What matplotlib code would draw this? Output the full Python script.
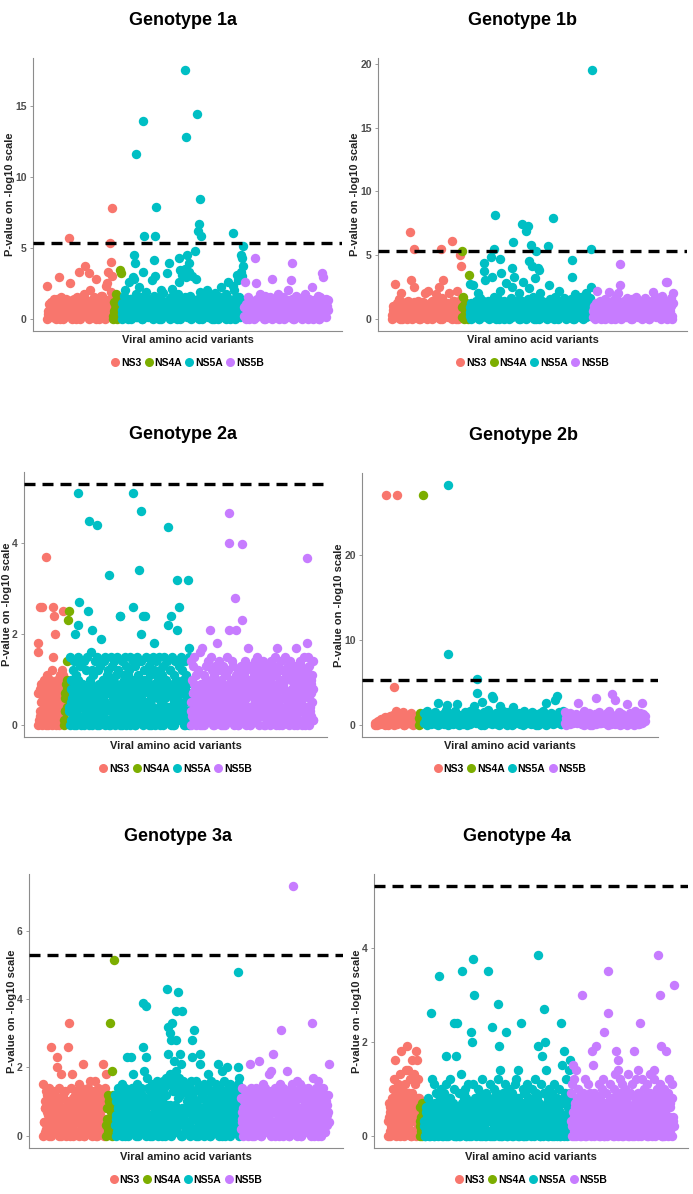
import numpy as np
import matplotlib.pyplot as plt
from matplotlib.lines import Line2D
from matplotlib.ticker import MultipleLocator

plt.rcParams["font.family"] = ["Liberation Sans", "DejaVu Sans"]
plt.rcParams["font.weight"] = "bold"
plt.rcParams["axes.labelweight"] = "bold"

# ==============================
# genes / colours
# ==============================
GENES = ["NS3", "NS4A", "NS5A", "NS5B"]
GENE_COLORS = ["#F8766D", "#7CAE00", "#00BFC4", "#C77CFF"]
THRESHOLD = 5.3  # genome-wide significance, -log10 scale

# ==============================
# data
# one char per variant, -log10(p) in tenths, base 36
# ('0'..'9' = 0.0..0.9, 'a' = 1.0 ... 'z' = 3.5)
#   *_BG   : variants in gene order (spread / upper part of the cloud)
#   *_CORE : the many weak variants that make the solid band at the bottom
#   *_HITS : (variant index inside the gene, -log10(p)) for stronger signals
# ==============================

# ---- genotype 1a
G1A_NS3_BG = "n3a5c18e2b4d7t0a6c93e5b2p8d1a6c0f7xb3e9h2d8a5wk1c6fbs3e0a9g74d1npxa2ju"
G1A_NS4A_BG = "2c7h0e4yw"
G1A_NS5A_BG = ("6b2gk8d0q5e3ts9h1c7m4f0xa8j2d6b5r1g9u3e70ck4i8a2w5d9f1l6b3e0"
               "hqy7vc2zt4a8xg1u5c9s3e0jb6h2d85k1a7f4c0ib3g9d2m6e18h4qc0a5nk2f7vr9txu6")
G1A_NS5B_BG = "8qa3f0d5c91b6p2e4ha7c0g5d9a3f1s7b2e8h0c49f1a6d3k5bre0c8g2a7d4b9f1h6c0ea5m3d8b2g70fcwtb4e9d"
G1A_NS3_CORE = "0527a1c4830e6b2f9071d538a4c06e2b71905f3a8d2c6041b9e7035a2g8160c4d9372e"
G1A_NS4A_CORE = "05a3c81e6"
G1A_NS5A_CORE = ("3071c5a82e0d4b6193f2a7058c2e14b9603d7a251f084c6b3920e7a51d84"
                 "6c039b2f71a5840e3c6917d2b05a483e916c0f274b08a3d5619027e4c1b805a63f1d92")
G1A_NS5B_CORE = "2805b3d17a6041e92c58a3071d46b90528c1e374b6092a5d138470c2e9613a05b8147d9260c3a5180e4b7291d6"
G1A_NS3_HITS = [(23, 5.7), (40, 3.7), (67, 5.3), (68, 4.0), (69, 7.8)]
G1A_NS4A_HITS = []
G1A_NS5A_HITS = [(13, 4.5), (14, 3.9), (15, 11.6), (23, 13.9), (24, 5.8), (35, 4.1),
                 (36, 5.8), (37, 7.9), (50, 3.9), (61, 4.3), (67, 17.5), (68, 12.8),
                 (69, 4.5), (72, 3.9), (78, 4.8), (80, 14.4), (81, 6.2), (82, 6.7),
                 (83, 8.4), (84, 5.8), (118, 6.0), (127, 4.5), (128, 4.3), (129, 5.1),
                 (129, 3.7)]
G1A_NS5B_HITS = [(12, 4.3), (51, 3.9)]

# ---- genotype 1b
G1B_NS3_BG = "3a6r1c8f50k29b4d07c2u5a1p8c3e60b7d2ka4m91c5e8a3j6bp0d4gu2a7c5k1b9e3a0dm6c8f"
G1B_NS4A_BG = "9h2c6a0y"
G1B_NS5A_BG = ("r5c1qa8e3k0g6b9d2ub4e7a1x3h5c82f0m9b4e6sa3d7g1p5xc8e2k0b6t4d"
               "9a1fo3c7h5w0e6b2k8d41c9a5qf3e7b2h6d0m4a83g9c1e5b7fxd0j6a2c4h8b5e1k3a9gp4")
G1B_NS5B_BG = "6a2c8mb4e09d3f1a7l5c0e8b4h2kaq7c3e9a1g5db0f6c2h8a4e9d1b5g3c70a8e4lf2h6c9b3i5e1tdt7a2g0k"
G1B_NS3_CORE = "0716a3c2854093b15e726081d4a9305c2719b0483a6052d81794c0368a251b7403e96280a51"
G1B_NS4A_CORE = "1a04c627"
G1B_NS5A_CORE = ("2905a1c7360b48e2d9157063a48c015e927b3064d1085a2c793b6041e85a"
                 "9027c3d160a48b0529e73160d8a4c205b9731e864a20c59d176083b2e41a9705c1d3b826")
G1B_NS5B_CORE = "1805a3c9627b40e1d58329a6071c450d38b52e196a0473c81259e0b61d370428a5c9163b70e24d850196a2c"
G1B_NS3_HITS = [(19, 6.8), (24, 5.5), (52, 5.5), (64, 6.1), (73, 5.0), (74, 4.1)]
G1B_NS4A_HITS = [(0, 5.3)]
G1B_NS5A_HITS = [(15, 4.4), (16, 3.7), (23, 4.8), (26, 5.5), (27, 8.1), (33, 4.7),
                 (34, 3.6), (46, 4.0), (47, 6.0), (56, 7.4), (60, 6.9), (63, 7.3),
                 (64, 4.5), (66, 5.8), (67, 4.1), (71, 5.3), (73, 4.0), (74, 3.8),
                 (84, 5.7), (89, 7.9), (110, 4.6), (130, 5.5), (131, 19.5)]
G1B_NS5B_HITS = [(29, 4.3)]

# ---- genotype 2a
G2A_NS3_BG = "ig7q290q5a3816b0492a7c1fqok40829a3b61c5p"
G2A_NS4A_BG = "1639aenp"
G2A_NS5A_BG = ("3f5a1c7e0k4b8fmr6d0592e71c3f6p0a5g2l8b4e17f3c60d9j5a2e8f4b1c"
               "7x0f3d6a2e8b4f1c5oo90e7a3f6d2b8c1f5a3eq70d6f2b9y4ke1o7co3f5a"
               "8d0b6e2f4ci91e7a3f0c5b8d2f6a4e1m9c3o7f0b6e2awl8dq4f1c7a5e0b93whf6")
G2A_NS5B_BG = ("e3a7d1f5b08c26g490h5b37d1a6e2l9f4c0b8d5ai37e1c6a29d40b8f5cl3"
               "7a1e6d29sbl4c08a5dn39b1e6c2ah70d4a8c3b5e1f7a9d2c6b4e0a8c5d3b"
               "7a1e9c2d6f0bh4d8a2e6c9a3f1b7d50e4a8c2d6b9h3c7a1e5d0b8f4a2cif6d3a9b1e")
G2A_NS3_CORE = "07183529642a058317964019276358a3086124b7"
G2A_NS4A_CORE = "03718496"
G2A_NS5A_CORE = ("40816259370352a8714692604153871739c0624858041297362a68053179"
                 "401738692509361482077152b90463386027415904917368256208a51493"
                 "15740826398029b3614753609182742714c083650859261473419370852617305")
G2A_NS5B_CORE = ("052739184638160429577094a25138146280739558391702640275b48613"
                 "914836207526035918476751029384408273615913960482758520a61749"
                 "304718956276153029480938472615527186409328041593766139a0724809472518")
G2A_NS3_HITS = [(13, 3.7)]
G2A_NS4A_HITS = []
G2A_NS5A_HITS = [(14, 5.1), (30, 4.5), (43, 4.4), (98, 5.1), (109, 4.7), (151, 4.35)]
G2A_NS5B_HITS = [(58, 4.66), (59, 4.0), (78, 3.98), (178, 3.68)]

# ---- genotype 2b
G2B_NS3_BG = "3051724a608b3c5g2e94f0c6a3e158b4"
G2B_NS4A_BG = "8e3c"
G2B_NS5A_BG = ("e8g3c9a5f1q6b2d8io0c7e3gp5c9a1f6d2hb8m4e9c0rf5ai3dyw7e1bm6g2"
               "c8f4a0l5d9e2b7g3c6a1f5d0b8e4h2q7c3e9auy5f1dg")
G2B_NS5B_BG = "f8c3e9a5d2q6b1g7c4e0a8dw5f2c9b3e7h1c6ta4f0d8b5p2e9c3g7a1eqdb"
G2B_NS3_CORE = "04132670513826041795104836250724"
G2B_NS4A_CORE = "0527"
G2B_NS5A_CORE = ("2705918346048261379561392704583806154927925104378616473095825038261947"
                 "8160a5392447920183650385b172647193")
G2B_NS5B_CORE = "309517284662810493750741836259580629314724185709369063148275"
G2B_NS3_HITS = [(8, 27.0), (14, 4.5), (16, 27.0)]
G2B_NS4A_HITS = [(3, 27.0)]
G2B_NS5A_HITS = [(18, 28.2), (18, 8.3), (39, 5.4), (39, 3.8)]
G2B_NS5B_HITS = [(35, 3.7)]

# ---- genotype 3a
G3A_NS3_BG = "f4a8d1c6e07bq3d91c5ank6e28i0b4c71d5a3qx90e6i2b8c4a7d1f5b3e9cl0a6d2c8e4g9b1d5a3g70c8e2a6d4bl9dei"
G3A_NS4A_BG = "38c1a5xb0jc74"
G3A_NS5A_BG = ("c5a1e8b3d60f7c2e9an4d81bn6ei3c9a5f0d7b2e4cqj8a1nhe6b3d9f0c5a"
               "2e7g1b8d4fa6g3e0hc9wofiusxgdmhesjfgbhcold8g5e1f7a3c9e2gsnbv6"
               "dg0a8e4olb7c1f5d9a3ie6b0g4c8d2a7f3lc5e1b9jd4g0c8ke2a6f1d5b9c3e7afkhcd")
G3A_NS5B_BG = ("b4e8a1c6d390cl5e2a7d1b6e3c8am4d09f5b2e7c1a6i3jd8ob4e0c9a5d2f"
               "7vb3e1c8aj5d0b6e2f9c4a8d1g6b3f0c7e5a9d2b6e1c8a4xdh0b7e3cg9a5d2b8e1c6a49cl")
G3A_NS3_CORE = ("041827395660935127482750a81364814603927539726051481580b47326"
                "73049258615261073498903741628540185")
G3A_NS4A_CORE = "0582a147396b2"
G3A_NS5A_CORE = ("306182945771483059260592a731684806153792193726084562 50b94173".replace(" ", "") +
                 "871304952620648173955397026184912857364006753182493840c96152"
                 "72194058631583062794640219753849518302760736a251498260475391395172046")
G3A_NS5B_CORE = ("2750418369518396207409263715487048a52196361580942794712360581360894725"
                 "620851793445970631828032b74615176430592852196803470843271596374")
G3A_NS3_HITS = []
G3A_NS4A_HITS = [(12, 5.15)]
G3A_NS5A_HITS = [(42, 3.88), (47, 3.8), (78, 4.29), (92, 3.66), (94, 4.22), (101, 3.66), (184, 4.8)]
G3A_NS5B_HITS = [(79, 7.31)]

# ---- genotype 4a
G4A_NS3_BG = "3705182a4cg691b380di5a297b4eje18c60g93d5bi7gc28"
G4A_NS4A_BG = "2617054"
G4A_NS5A_BG = ("3061528470q2c5b0739164y82a057391bh46082c5371ao40ho62930d5z18"
               "4a0637b251mk6bu380527a1946c038250936z1b470n52a8361csje407295"
               "3b6m081a47259063b1c48e052o73a61904b528370a6153c9284j703b6h29"
               "rke5180a463952b0714862a05o3f71i94c062e8g")
G4A_NS5B_BG = ("9b3f0c6e284a1750u3962c8041b5370i6f294j1753b0862acm41970zq53b"
               "8260a4di17ge3c950b628a4175d03916b40i72c5e93o806c1a4728b0593d"
               "6183ec075a294buj6083a51i790c4628b3w")
G4A_NS3_CORE = "04162753813702846195518306742929570416384061837"
G4A_NS4A_CORE = "0346125"
G4A_NS5A_CORE = ("205143607243160521740623714905524037162813570642036102543719"
                 "348021605707143658215263041738204615380771350264984502371063"
                 "167804321532056147826041327509056314827624170536845730216409"
                 "1362750483402861357061530427180374261593")
G4A_NS5B_CORE = ("302514760816403725185072416389231850467146031257900251673148"
                 "641703285930542618071738405269520631847404631725382745016893"
                 "41082637596371540826052638417183042")
G4A_NS3_HITS = []
G4A_NS4A_HITS = []
G4A_NS5A_HITS = [(73, 3.75), (171, 3.84)]
G4A_NS5B_HITS = [(130, 3.84)]

TITLES = ["Genotype 1a", "Genotype 1b", "Genotype 2a", "Genotype 2b", "Genotype 3a", "Genotype 4a"]
BACKGROUNDS = [
    [G1A_NS3_BG, G1A_NS4A_BG, G1A_NS5A_BG, G1A_NS5B_BG],
    [G1B_NS3_BG, G1B_NS4A_BG, G1B_NS5A_BG, G1B_NS5B_BG],
    [G2A_NS3_BG, G2A_NS4A_BG, G2A_NS5A_BG, G2A_NS5B_BG],
    [G2B_NS3_BG, G2B_NS4A_BG, G2B_NS5A_BG, G2B_NS5B_BG],
    [G3A_NS3_BG, G3A_NS4A_BG, G3A_NS5A_BG, G3A_NS5B_BG],
    [G4A_NS3_BG, G4A_NS4A_BG, G4A_NS5A_BG, G4A_NS5B_BG],
]
CORES = [
    [G1A_NS3_CORE, G1A_NS4A_CORE, G1A_NS5A_CORE, G1A_NS5B_CORE],
    [G1B_NS3_CORE, G1B_NS4A_CORE, G1B_NS5A_CORE, G1B_NS5B_CORE],
    [G2A_NS3_CORE, G2A_NS4A_CORE, G2A_NS5A_CORE, G2A_NS5B_CORE],
    [G2B_NS3_CORE, G2B_NS4A_CORE, G2B_NS5A_CORE, G2B_NS5B_CORE],
    [G3A_NS3_CORE, G3A_NS4A_CORE, G3A_NS5A_CORE, G3A_NS5B_CORE],
    [G4A_NS3_CORE, G4A_NS4A_CORE, G4A_NS5A_CORE, G4A_NS5B_CORE],
]
HITS = [
    [G1A_NS3_HITS, G1A_NS4A_HITS, G1A_NS5A_HITS, G1A_NS5B_HITS],
    [G1B_NS3_HITS, G1B_NS4A_HITS, G1B_NS5A_HITS, G1B_NS5B_HITS],
    [G2A_NS3_HITS, G2A_NS4A_HITS, G2A_NS5A_HITS, G2A_NS5B_HITS],
    [G2B_NS3_HITS, G2B_NS4A_HITS, G2B_NS5A_HITS, G2B_NS5B_HITS],
    [G3A_NS3_HITS, G3A_NS4A_HITS, G3A_NS5A_HITS, G3A_NS5B_HITS],
    [G4A_NS3_HITS, G4A_NS4A_HITS, G4A_NS5A_HITS, G4A_NS5B_HITS],
]
TICK_STEPS = [5, 5, 2, 10, 2, 2]

# ==============================
# layout (figure fractions) – panels were pasted together, so not a neat grid
# ==============================
FIG_W, FIG_H = 6.93, 11.94
RECTS = [
    [0.0476, 0.7228, 0.4459, 0.2286],
    [0.5455, 0.7228, 0.4459, 0.2286],
    [0.0346, 0.3827, 0.4372, 0.2219],
    [0.5224, 0.3827, 0.4271, 0.2211],
    [0.0418, 0.0385, 0.4531, 0.2295],
    [0.5397, 0.0385, 0.4531, 0.2295],
]
TITLE_X = [0.485, 0.469, 0.525, 0.544, 0.475, 0.455]

AXIS_GREY = "#8c8c8c"
TEXT_GREY = "#4d4d4d"


def decode(s):
    return np.array([int(c, 36) for c in s], dtype=float) / 10.0


def draw_panel(ax, title, backgrounds, cores, hits, tick_step, title_x, rect):
    start = 0
    ys = []
    for color, bg, core, hit in zip(GENE_COLORS, backgrounds, cores, hits):
        y = decode(bg)
        yc = decode(core)
        x = start + np.arange(len(y))
        # core variants spread over the same stretch of the gene
        xc = start + np.linspace(0, len(y) - 1, len(yc))
        hx = np.array([start + i for i, _ in hit], dtype=float)
        hy = np.array([v for _, v in hit], dtype=float)
        ax.scatter(np.r_[xc, x, hx], np.r_[yc, y, hy], s=46, color=color,
                   linewidths=0, zorder=2)
        ys.extend(y)
        ys.extend(hy)
        start += len(y)

    n = start
    ax.axhline(THRESHOLD, color="black", lw=2.4, ls=(0, (3.3, 2.1)), zorder=3)

    # ggplot style 5% expansion
    xpad = 0.05 * (n - 1)
    ax.set_xlim(-xpad, n - 1 + xpad)
    top = max(max(ys), THRESHOLD)
    ax.set_ylim(-0.05 * top, top * 1.05)

    for side in ["top", "right"]:
        ax.spines[side].set_visible(False)
    for side in ["left", "bottom"]:
        ax.spines[side].set_color(AXIS_GREY)
        ax.spines[side].set_linewidth(0.8)

    ax.set_xticks([])
    ax.yaxis.set_major_locator(MultipleLocator(tick_step))
    ax.tick_params(axis="y", length=2.5, width=0.6, color=AXIS_GREY,
                   labelsize=7.5, labelcolor=TEXT_GREY, pad=2)

    ax.set_xlabel("Viral amino acid variants", fontsize=8, fontweight="bold",
                  color="#222222", labelpad=3)
    ax.set_ylabel("P-value on -log10 scale", fontsize=8, fontweight="bold",
                  color="#222222", labelpad=0)
    ax.set_title(title, fontsize=13, fontweight="bold", x=title_x, pad=24)

    handles = [Line2D([], [], marker="o", ls="", color=c, markersize=6.5, markeredgewidth=0)
               for c in GENE_COLORS]
    h_px = rect[3] * FIG_H * 100
    ax.legend(handles, GENES, loc="center", bbox_to_anchor=(0.5, -32 / h_px),
              ncol=4, frameon=False, fontsize=7.5, handlelength=0.8,
              handletextpad=0.15, columnspacing=0.3, borderaxespad=0, borderpad=0)


fig = plt.figure(figsize=(FIG_W, FIG_H), dpi=100)
for i in range(6):
    ax = fig.add_axes(RECTS[i])
    draw_panel(ax, TITLES[i], BACKGROUNDS[i], CORES[i], HITS[i], TICK_STEPS[i],
               TITLE_X[i], RECTS[i])

fig.savefig("out.png", dpi=100)
